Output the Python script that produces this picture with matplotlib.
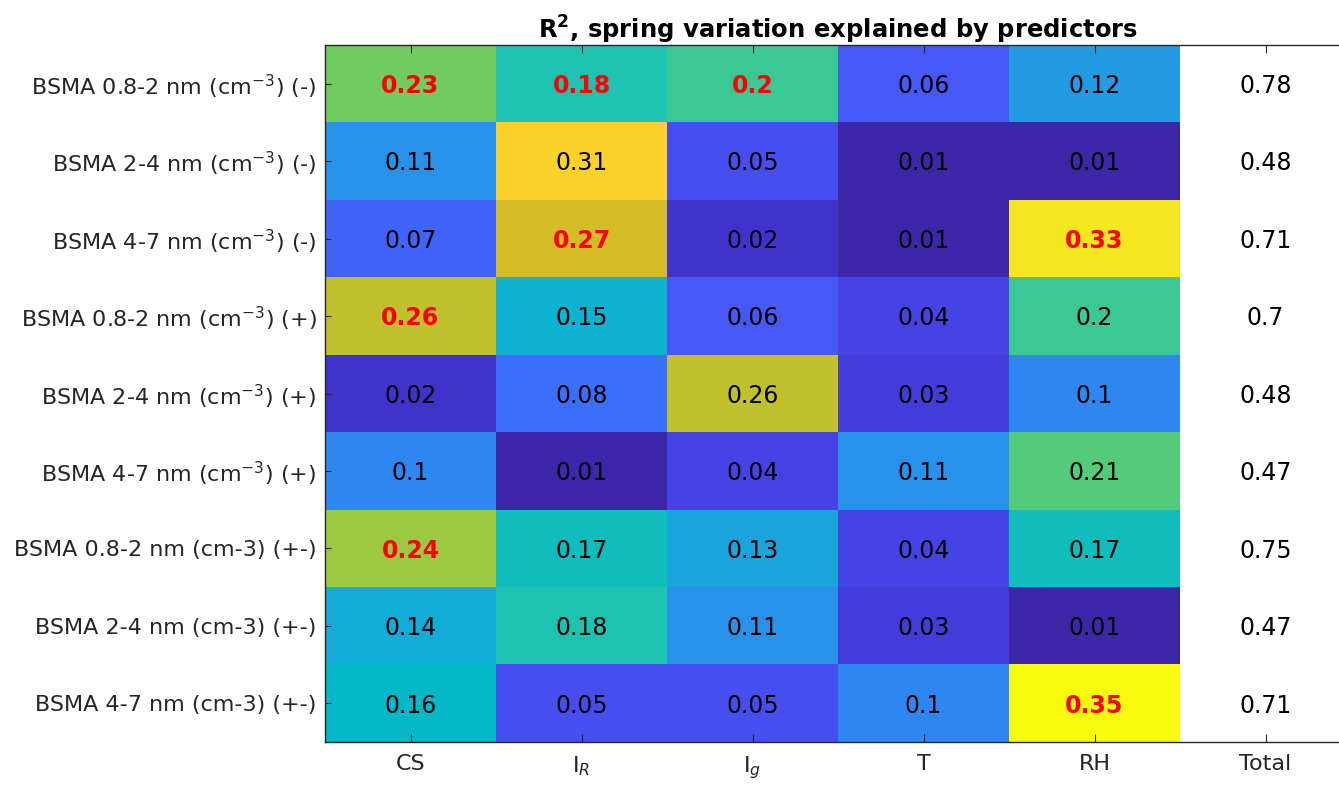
import numpy as np
import matplotlib
matplotlib.use("Agg")
import matplotlib.pyplot as plt
from matplotlib.colors import LinearSegmentedColormap

# data
row_labels = ['BSMA 0.8-2 nm (cm$^{-3}$) (-)', 'BSMA 2-4 nm (cm$^{-3}$) (-)', 'BSMA 4-7 nm (cm$^{-3}$) (-)',
              'BSMA 0.8-2 nm (cm$^{-3}$) (+)', 'BSMA 2-4 nm (cm$^{-3}$) (+)', 'BSMA 4-7 nm (cm$^{-3}$) (+)',
              'BSMA 0.8-2 nm (cm-3) (+-)', 'BSMA 2-4 nm (cm-3) (+-)', 'BSMA 4-7 nm (cm-3) (+-)']
col_labels = ['CS', 'I$_R$', 'I$_g$', 'T', 'RH', 'Total']

cs = [0.23, 0.11, 0.07, 0.26, 0.02, 0.10, 0.24, 0.14, 0.16]
i_r = [0.18, 0.31, 0.27, 0.15, 0.08, 0.01, 0.17, 0.18, 0.05]
i_g = [0.20, 0.05, 0.02, 0.06, 0.26, 0.04, 0.13, 0.11, 0.05]
temp = [0.06, 0.01, 0.01, 0.04, 0.03, 0.11, 0.04, 0.03, 0.10]
rh = [0.12, 0.01, 0.33, 0.20, 0.10, 0.21, 0.17, 0.01, 0.35]
total = [0.78, 0.48, 0.71, 0.70, 0.48, 0.47, 0.75, 0.47, 0.71]

# significant predictors (red bold)
sig = [[1, 1, 1, 0, 0],
       [0, 0, 0, 0, 0],
       [0, 1, 0, 0, 1],
       [1, 0, 0, 0, 0],
       [0, 0, 0, 0, 0],
       [0, 0, 0, 0, 0],
       [1, 0, 0, 0, 0],
       [0, 0, 0, 0, 0],
       [0, 0, 0, 0, 1]]

# parula-like colormap
anchors = [(0.000, (62, 38, 168)), (0.030, (67, 52, 208)), (0.090, (71, 68, 232)),
           (0.150, (70, 90, 248)), (0.200, (60, 110, 252)), (0.270, (45, 138, 240)),
           (0.320, (35, 155, 228)), (0.380, (20, 172, 215)), (0.440, (5, 185, 200)),
           (0.500, (28, 194, 178)), (0.560, (60, 200, 150)), (0.590, (85, 204, 122)),
           (0.650, (115, 205, 95)), (0.680, (160, 200, 65)), (0.740, (195, 193, 45)),
           (0.770, (215, 188, 40)), (0.880, (252, 210, 45)), (0.940, (245, 230, 35)),
           (1.000, (249, 251, 14))]
parula = LinearSegmentedColormap.from_list('parula', [(t, tuple(c / 255 for c in col)) for t, col in anchors])
parula.set_bad('white')

pred = np.column_stack([cs, i_r, i_g, temp, rh])
grid = np.column_stack([pred, np.full(len(total), np.nan)])

fig = plt.figure(figsize=(13.39, 7.85), dpi=100)
ax = fig.add_axes([325 / 1339, 43 / 785, 1026 / 1339, 697 / 785])
ax.imshow(grid, cmap=parula, vmin=np.min(pred), vmax=np.max(pred), aspect='auto', interpolation='nearest')

for i in range(pred.shape[0]):
    for j in range(pred.shape[1]):
        if sig[i][j]:
            ax.text(j, i + 0.03, f'{pred[i, j]:g}', ha='center', va='center', fontsize=17,
                    color='red', fontweight='bold')
        else:
            ax.text(j, i + 0.03, f'{pred[i, j]:g}', ha='center', va='center', fontsize=17,
                    color='black')
    ax.text(5, i + 0.03, f'{total[i]:g}', ha='center', va='center', fontsize=17, color='black')

ax.set_xticks(range(6))
ax.set_xticklabels(col_labels, fontsize=16, color='#262626')
ax.set_yticks(range(9))
ax.set_yticklabels(row_labels, fontsize=16, color='#262626')
ax.tick_params(axis='x', direction='in', length=6, top=True, color='#262626', pad=9)
ax.tick_params(axis='y', direction='in', length=4, right=True, color='#262626', pad=6)
for sp in ax.spines.values():
    sp.set_color('#262626')
    sp.set_linewidth(1)

fig.text(838 / 1339, 1 - 30 / 785, r'$\mathbf{R^2}$, spring variation explained by predictors',
         ha='center', va='center', fontsize=17.5, fontweight='bold', color='black')

fig.savefig('out.png', dpi=100)
